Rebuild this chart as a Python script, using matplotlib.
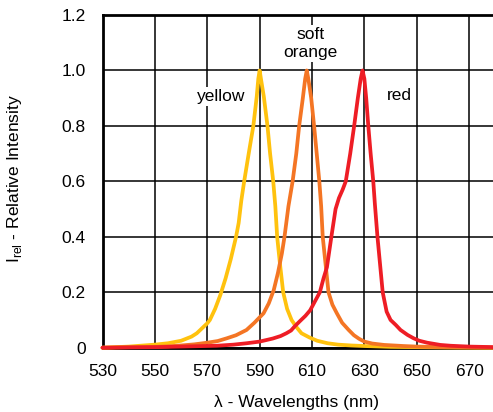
import matplotlib
matplotlib.use("Agg")
import matplotlib.pyplot as plt

plt.rcParams['font.family'] = ['Liberation Sans', 'DejaVu Sans']

# Relative emission spectra (wavelength in nm, relative intensity)
yellow_nm = [530, 540, 550, 555, 560, 564, 566, 568, 570, 571, 573, 575, 577, 579, 581,
             582, 583, 584.1, 586, 587.6, 588.9, 589.5, 590, 590.5, 591.6, 593, 594,
             595.2, 596, 596.7, 597.8, 599, 600.5, 602.2, 604, 606, 609, 612, 616, 620,
             625, 630, 640, 660, 680]
yellow_int = [0.0, 0.004, 0.011, 0.016, 0.025, 0.04, 0.052, 0.07, 0.088, 0.1, 0.14, 0.19,
              0.25, 0.32, 0.4, 0.45, 0.53, 0.6, 0.71, 0.8, 0.906, 0.97, 1.0, 0.97, 0.906,
              0.8, 0.7, 0.6, 0.51, 0.4, 0.3, 0.2, 0.14, 0.1, 0.075, 0.052, 0.037, 0.025,
              0.016, 0.011, 0.008, 0.006, 0.003, 0.001, 0.0]

orange_nm = [530, 540, 550, 555, 560, 565, 570, 574, 577.5, 581, 585, 588, 591.5, 593.5,
             595.4, 597, 598.5, 599.5, 601, 602.6, 604, 605.1, 606.5, 607.4, 608, 608.6,
             609.7, 610.8, 611.8, 612.8, 613.5, 614.1, 615.2, 616.3, 617.8, 619.5, 621.5,
             624, 626, 628, 630, 633, 637.5, 645, 650, 660, 680]
orange_int = [0.0, 0.002, 0.003, 0.005, 0.008, 0.012, 0.018, 0.024, 0.034, 0.045, 0.064,
              0.09, 0.124, 0.16, 0.208, 0.27, 0.34, 0.4, 0.51, 0.6, 0.7, 0.8, 0.9, 0.97,
              1.0, 0.97, 0.9, 0.8, 0.7, 0.6, 0.51, 0.4, 0.3, 0.2, 0.155, 0.124, 0.09,
              0.064, 0.045, 0.032, 0.022, 0.015, 0.01, 0.006, 0.004, 0.002, 0.0]

red_nm = [530, 550, 560, 573.6, 580, 585, 590, 595, 598, 600.2, 602, 603.3, 605.3, 607.5,
          609.3, 611, 613, 614.4, 615.7, 617.4, 619, 620.3, 621.7, 622.9, 624.6, 626.1,
          627.5, 628.6, 629.3, 630, 630.7, 631.5, 632.4, 633.4, 634, 635, 636, 637,
          638.5, 640, 642, 643.8, 646.5, 648.8, 651, 654, 659, 663, 670, 680]
red_int = [0.0, 0.002, 0.004, 0.007, 0.011, 0.016, 0.022, 0.033, 0.042, 0.052, 0.062,
           0.076, 0.095, 0.115, 0.135, 0.165, 0.2, 0.25, 0.29, 0.4, 0.5, 0.54, 0.57, 0.6,
           0.7, 0.8, 0.9, 0.97, 1.0, 0.97, 0.9, 0.8, 0.7, 0.6, 0.52, 0.4, 0.3, 0.2, 0.13,
           0.1, 0.082, 0.064, 0.046, 0.034, 0.025, 0.018, 0.01, 0.007, 0.004, 0.002]

x_ticks = [530, 550, 570, 590, 610, 630, 650, 670]
y_ticks = [0, 0.2, 0.4, 0.6, 0.8, 1.0, 1.2]
y_tick_labels = ["0", "0.2", "0.4", "0.6", "0.8", "1.0", "1.2"]

W, H = 493, 412
FS = 12.5
fig = plt.figure(figsize=(W / 100, H / 100), dpi=100)
ax = fig.add_axes([102.5 / W, 64.3 / H, (495.3 - 102.5) / W, (347.7 - 15) / H])

line_kw = dict(lw=2.7, solid_capstyle='round', solid_joinstyle='round', clip_on=False, zorder=4)
ax.plot(yellow_nm, yellow_int, color='#FFC20E', **line_kw)
ax.plot(orange_nm, orange_int, color='#F47524', **line_kw)
ax.plot(red_nm, red_int, color='#EE1D25', **line_kw)

ax.set_xlim(530, 680)
ax.set_ylim(0, 1.2)
ax.set_xticks(x_ticks)
ax.set_xticklabels([str(t) for t in x_ticks])
ax.set_yticks(y_ticks)
ax.set_yticklabels(y_tick_labels)
ax.tick_params(axis='both', length=0, labelsize=FS, colors='black')
ax.tick_params(axis='x', pad=12)
ax.tick_params(axis='y', pad=12)

ax.grid(True, color='black', lw=1.1, zorder=1)
ax.set_axisbelow(True)
for side in ['left', 'bottom', 'top']:
    ax.spines[side].set_linewidth(2.0)
    ax.spines[side].set_color('black')
ax.spines['right'].set_visible(False)

# Series labels, placed in pixel coordinates with a white backing over the grid
box = dict(facecolor='white', edgecolor='none', pad=1.5)
ax.text(221, H - 96.7, "yellow", transform=None, fontsize=FS, ha='center', va='center',
        bbox=box, zorder=3)
ax.text(399.3, H - 95, "red", transform=None, fontsize=FS, ha='center', va='center',
        bbox=box, zorder=3)
ax.text(310.7, H - 43.5, "soft\norange", transform=None, fontsize=FS, ha='center', va='center',
        linespacing=1.2, bbox=box, zorder=3)

fig.text(296.7 / W, 1 - 402 / H, "λ - Wavelengths (nm)", fontsize=FS, ha='center', va='center')
fig.text(15 / W, 1 - 179 / H, r"I$_{\mathregular{rel}}$ - Relative Intensity", fontsize=FS,
         rotation=90, ha='center', va='center')

fig.savefig("out.png", dpi=100)
